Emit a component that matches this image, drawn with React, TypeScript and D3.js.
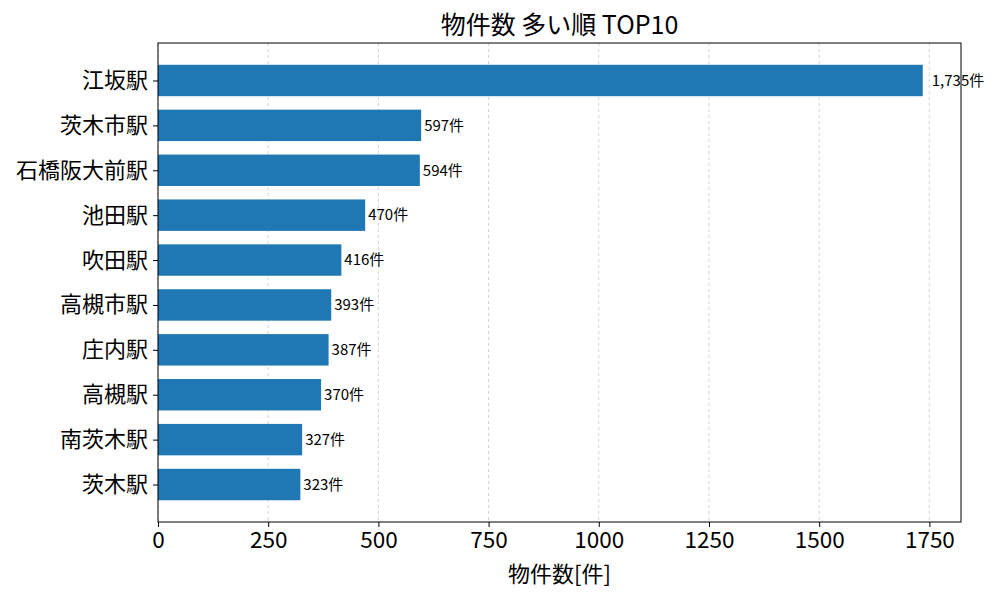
import * as d3 from 'd3';
import React, { useEffect, useRef } from 'react';

const stations = ['江坂駅', '茨木市駅', '石橋阪大前駅', '池田駅', '吹田駅', '高槻市駅', '庄内駅', '高槻駅', '南茨木駅', '茨木駅'];
const counts = [1735, 597, 594, 470, 416, 393, 387, 370, 327, 323];
const xTicks = [0, 250, 500, 750, 1000, 1250, 1500, 1750];

const W = 1000;
const H = 600;
const margin = { left: 158, right: 39, top: 43, bottom: 78 };
const FONT = '"Noto Sans CJK JP", "Noto Sans", sans-serif';

const App = () => {
  const ref = useRef<SVGSVGElement>(null);

  useEffect(() => {
    drawChart();
  }, []);

  function drawChart() {
    const svg = d3.select(ref.current);
    svg.selectAll('*').remove();

    const x0 = margin.left;
    const x1 = W - margin.right;
    const y0 = margin.top;
    const y1 = H - margin.bottom;

    const xMax = d3.max(counts)! * 1.05;
    const xScale = d3.scaleLinear().domain([0, xMax]).range([x0, x1]);
    const n = stations.length;
    const pad = 0.35 + 0.05 * (n - 1 + 0.7);
    const yScale = d3.scaleLinear().domain([-pad, n - 1 + pad]).range([y0, y1]);

    // grid
    svg
      .append('g')
      .selectAll('line')
      .data(xTicks)
      .join('line')
      .attr('x1', (d) => xScale(d))
      .attr('x2', (d) => xScale(d))
      .attr('y1', y0)
      .attr('y2', y1)
      .attr('stroke', '#b0b0b0')
      .attr('stroke-opacity', 0.7)
      .attr('stroke-width', 0.8)
      .attr('stroke-dasharray', '3,3');

    // bars
    svg
      .append('g')
      .selectAll('rect')
      .data(counts)
      .join('rect')
      .attr('x', xScale(0))
      .attr('y', (d, i) => yScale(i - 0.35))
      .attr('width', (d) => xScale(d) - xScale(0))
      .attr('height', yScale(0.35) - yScale(-0.35))
      .attr('fill', '#1f77b4');

    // value labels (the 4-digit one sits a bit further out)
    svg
      .append('g')
      .selectAll('text')
      .data(counts)
      .join('text')
      .attr('x', (d) => xScale(d) + (d >= 1000 ? 9 : 3))
      .attr('y', (d, i) => yScale(i))
      .attr('dy', '0.35em')
      .attr('font-family', FONT)
      .attr('font-size', 15)
      .attr('fill', '#000')
      .text((d) => `${d3.format(',')(d)}件`);

    // frame
    svg
      .append('rect')
      .attr('x', x0)
      .attr('y', y0)
      .attr('width', x1 - x0)
      .attr('height', y1 - y0)
      .attr('fill', 'none')
      .attr('stroke', '#000')
      .attr('stroke-width', 1);

    // x axis
    const xAxis = svg
      .append('g')
      .attr('transform', `translate(0,${y1})`)
      .call(d3.axisBottom(xScale).tickValues(xTicks).tickSize(5).tickPadding(5).tickFormat(d3.format('d')));
    xAxis.select('.domain').remove();
    xAxis.selectAll('text').attr('font-family', FONT).attr('font-size', 22.5).attr('fill', '#000');

    // y axis
    const yAxis = svg
      .append('g')
      .attr('transform', `translate(${x0},0)`)
      .call(
        d3
          .axisLeft(yScale)
          .tickValues(d3.range(n))
          .tickSize(5)
          .tickPadding(5)
          .tickFormat((d: any) => stations[d]),
      );
    yAxis.select('.domain').remove();
    yAxis.selectAll('text').attr('font-family', FONT).attr('font-size', 22).attr('fill', '#000');

    // title
    svg
      .append('text')
      .attr('x', (x0 + x1) / 2)
      .attr('y', 34)
      .attr('text-anchor', 'middle')
      .attr('font-family', FONT)
      .attr('font-size', 25)
      .text('物件数 多い順 TOP10');

    // x label
    svg
      .append('text')
      .attr('x', (x0 + x1) / 2)
      .attr('y', 582)
      .attr('text-anchor', 'middle')
      .attr('font-family', FONT)
      .attr('font-size', 22)
      .text('物件数[件]');
  }

  return (
    <svg
      ref={ref}
      width={W}
      height={H}
      style={{ position: 'absolute', left: 0, top: 0, background: '#fff' }}
    ></svg>
  );
};

export default App;
